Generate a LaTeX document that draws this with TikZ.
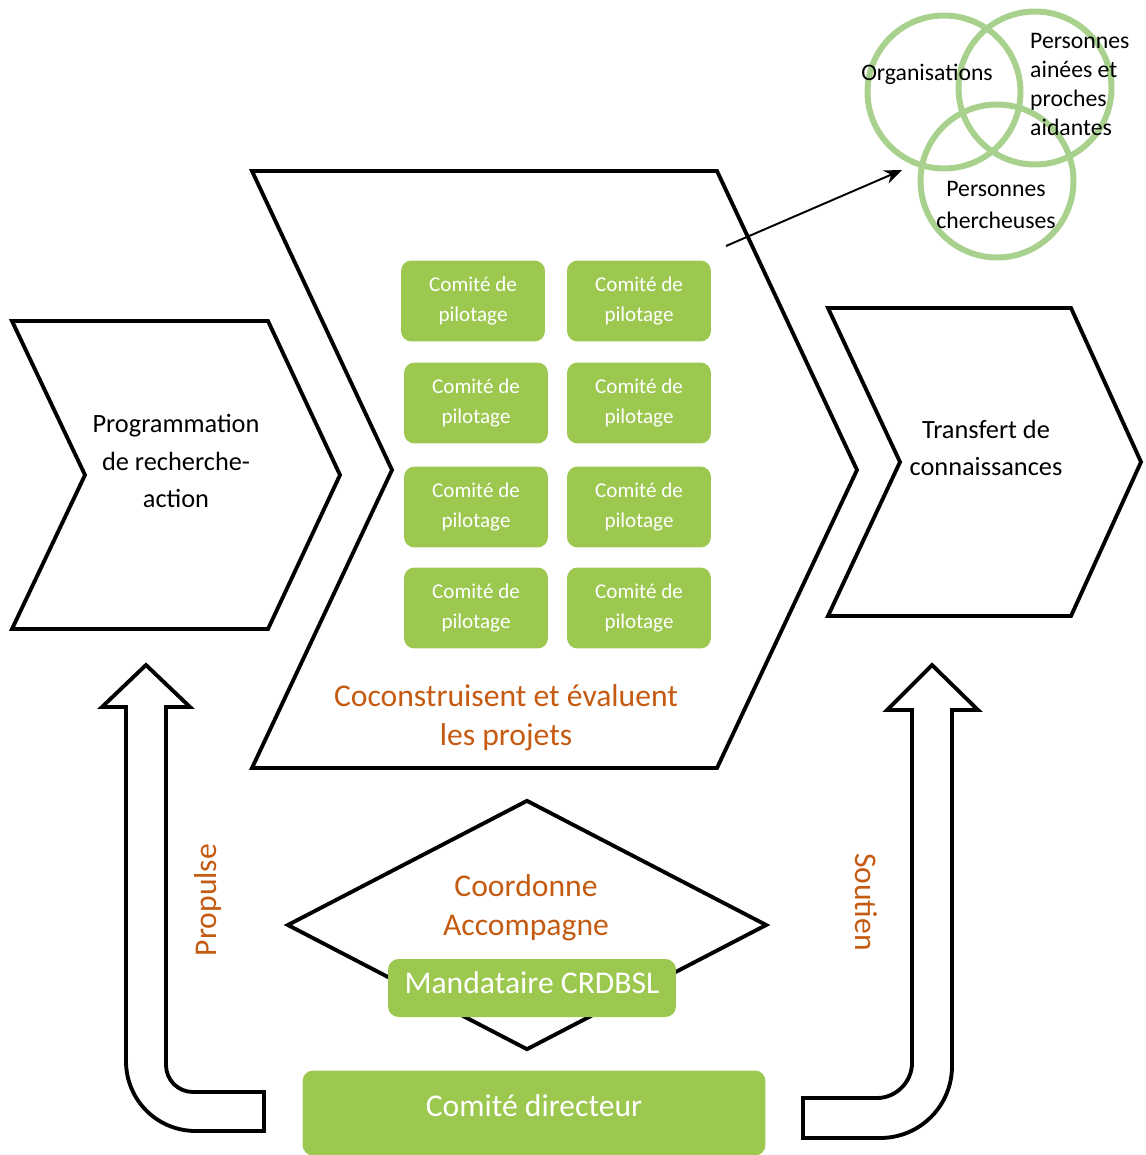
\documentclass[tikz,border=0pt]{standalone}
\usepackage{fontspec}
\setmainfont{Carlito}
\usepackage{tikz}
\usetikzlibrary{arrows.meta, shapes.geometric}
\definecolor{vertcomite}{RGB}{156,200,80}
\definecolor{vertcercle}{RGB}{169,209,142}
\definecolor{orangetexte}{RGB}{197,90,17}
\tikzset{
    contour/.style={draw, line width=2.2pt, line join=miter},
    comite/.style={
        fill=vertcomite,
        rounded corners=6pt,
        text=white,
        align=center,
        minimum width=2.88cm,
        minimum height=1.62cm,
        font=\fontsize{12}{17}\selectfont
    },
    cercle/.style={circle, draw=vertcercle, line width=3.4pt, minimum size=3.06cm, inner sep=0pt},
    verbe/.style={text=orangetexte, align=center, font=\fontsize{18}{22}\selectfont},
    etiquette/.style={align=center, font=\fontsize{15}{21.3}\selectfont},
    venn/.style={align=center, font=\fontsize{13.5}{16.5}\selectfont}
}

\begin{document}
\begin{tikzpicture}[x=0.02cm, y=-0.02cm]
	\useasboundingbox (0,0) rectangle (1145,1155);
	\draw[contour] (12,321) -- (268,321) -- (340,475) -- (268,629) -- (12,629) -- (85,475) -- cycle;
	\draw[contour] (252,171) -- (717,171) -- (857,470) -- (717,768) -- (252,768) -- (392,470) -- cycle;
	\draw[contour] (828,308) -- (1071,308) -- (1141,462) -- (1071,616) -- (828,616) -- (900,462) -- cycle;
	\node[etiquette] (programmation) at (176,461) {Programmation\\de recherche-\\action};
	\node[etiquette] (transfert) at (986,448) {Transfert de\\connaissances};
	\node[comite] (c11) at (473,301) {Comité de\\pilotage};
	\node[comite] (c12) at (639,301) {Comité de\\pilotage};
	\node[comite] (c21) at (476,403) {Comité de\\pilotage};
	\node[comite] (c22) at (639,403) {Comité de\\pilotage};
	\node[comite] (c31) at (476,507) {Comité de\\pilotage};
	\node[comite] (c32) at (639,507) {Comité de\\pilotage};
	\node[comite] (c41) at (476,608) {Comité de\\pilotage};
	\node[comite] (c42) at (639,608) {Comité de\\pilotage};
	\node[verbe] (coconstruisent) at (506,718) {Coconstruisent et évaluent\\les projets};
	\node[cercle] (organisations) at (944,92) {};
	\node[cercle] (aines) at (1035,88) {};
	\node[cercle] (chercheurs) at (997,181) {};
	\node[venn] (torg) at (927,74) {Organisations};
	\node[venn, align=left, anchor=west] (taines) at (1024,84) {Personnes\\ainées et\\proches\\aidantes};
	\node[venn, font=\fontsize{13.5}{18.5}\selectfont] (tcherch) at (996,205) {Personnes\\chercheuses};
	\coordinate (depart) at (726,246);
	\coordinate (arrivee) at (902,170);
	\draw[-{Stealth[length=10pt,width=8pt]}, line width=1.1pt] (depart) -- (arrivee);
	\node[contour, diamond, minimum width=9.6cm, minimum height=5cm, inner sep=0pt] (losange) at (527,925) {};
	\node[verbe] (coordonne) at (526,908) {Coordonne\\Accompagne};
	\node[comite, minimum width=5.76cm, minimum height=1.16cm, text depth=6.8pt, font=\fontsize{18}{22}\selectfont] (mandataire) at (532,988) {Mandataire CRDBSL};
	\node[comite, minimum width=9.26cm, minimum height=1.7cm, text depth=8pt, font=\fontsize{18}{22}\selectfont] (directeur) at (534,1113) {Comité directeur};
	\draw[contour] (146,665) -- (190,707) -- (166,707) -- (166,1065) .. controls (166,1080) and (178,1092) .. (193,1092) -- (264,1092) -- (264,1131) -- (196,1131) .. controls (157,1131) and (126,1100) .. (126,1061) -- (126,707) -- (102,707) -- cycle;
	\draw[contour] (932,665) -- (978,710) -- (952,710) -- (952,1066) .. controls (952,1106) and (920,1138) .. (880,1138) -- (803,1138) -- (803,1098) -- (877,1098) .. controls (896,1098) and (912,1082) .. (912,1063) -- (912,710) -- (887,710) -- cycle;
	\node[verbe, rotate=90] (propulse) at (208,900) {Propulse};
	\node[verbe, rotate=-90] (soutien) at (866,902) {Soutien};
\end{tikzpicture}
\end{document}
